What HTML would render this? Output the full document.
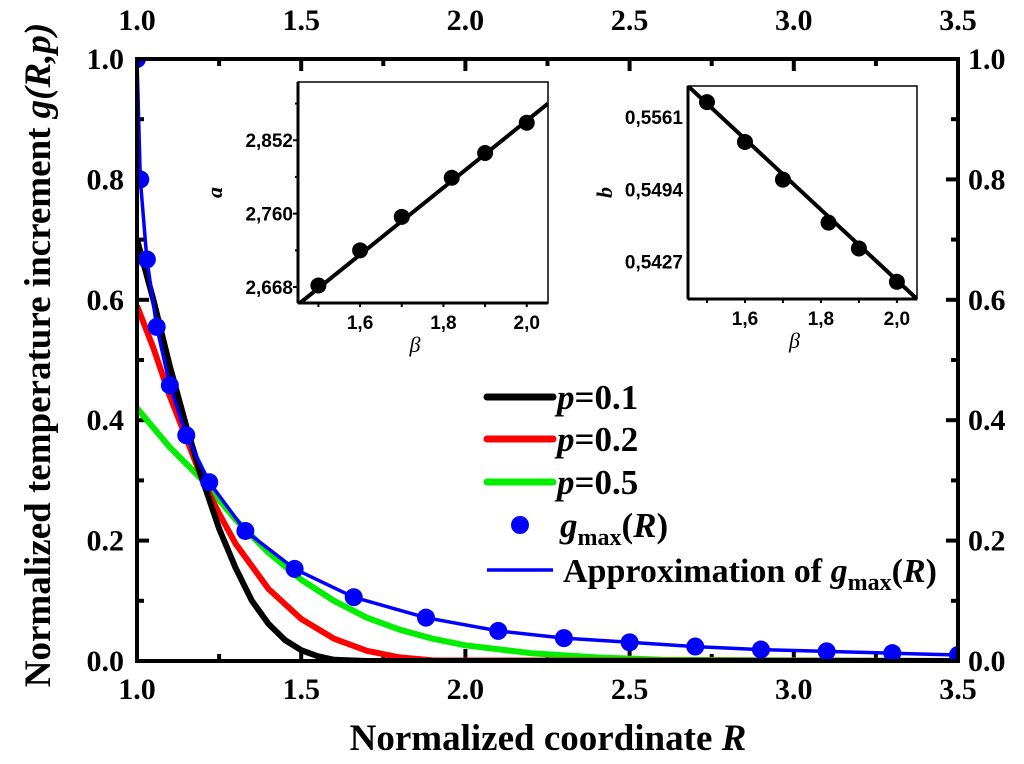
<!DOCTYPE html>
<html><head><meta charset="utf-8"><style>
html,body{margin:0;padding:0;background:#fff;}
svg{display:block;font-family:"Liberation Serif",serif;font-weight:bold;}
.ins{font-family:"Liberation Sans",sans-serif;font-weight:bold;}
</style></head><body>
<svg id="c" width="1024" height="764" viewBox="0 0 1024 764" xmlns="http://www.w3.org/2000/svg"></svg>
<script>
const gmaxR=[1.0,1.01,1.03,1.06,1.10,1.15,1.22,1.33,1.48,1.66,1.88,2.1,2.3,2.5,2.7,2.9,3.1,3.3,3.5];
const gmaxV=[1.0,0.80,0.667,0.555,0.458,0.375,0.297,0.216,0.153,0.106,0.072,0.050,0.038,0.031,0.024,0.019,0.016,0.013,0.010];
const p1R=[1.0,1.05,1.1,1.15,1.2,1.25,1.3,1.35,1.4,1.45,1.5,1.55,1.6,1.7,3.5];
const p1V=[0.70,0.60,0.49,0.39,0.30,0.22,0.155,0.10,0.062,0.035,0.018,0.008,0.002,0,0];
const p2R=[1.0,1.05,1.1,1.15,1.2,1.25,1.3,1.4,1.5,1.6,1.7,1.8,1.9,3.5];
const p2V=[0.59,0.52,0.44,0.37,0.30,0.245,0.195,0.12,0.07,0.037,0.017,0.006,0.001,0];
const p5R=[1.0,1.1,1.2,1.3,1.4,1.5,1.6,1.7,1.8,1.9,2.0,2.2,2.4,2.6,3.5];
const p5V=[0.42,0.355,0.30,0.235,0.18,0.135,0.10,0.072,0.052,0.037,0.026,0.013,0.006,0.002,0];
const xTicks=["1.0","1.5","2.0","2.5","3.0","3.5"];
const yTicks=["0.0","0.2","0.4","0.6","0.8","1.0"];
const aBeta=[1.5,1.6,1.7,1.82,1.9,2.0];
const aVal=[2.670,2.714,2.756,2.805,2.836,2.874];
const aTicks=["2,668","2,760","2,852"];
const bBeta=[1.5,1.6,1.7,1.82,1.9,2.0];
const bVal=[0.5575,0.5538,0.5503,0.5463,0.5439,0.5408];
const bTicks=["0,5561","0,5494","0,5427"];
const betaTicks=["1,6","1,8","2,0"];

const S=document.getElementById('c');const NS='http://www.w3.org/2000/svg';
function el(t,a,p){const e=document.createElementNS(NS,t);for(const k in a)e.setAttribute(k,a[k]);(p||S).appendChild(e);return e;}
const X0=137,X1=958,Y0=661,Y1=59;
const sx=v=>X0+(v-1)/2.5*(X1-X0), sy=v=>Y0-v*(Y0-Y1);
for(let v=1;v<=3.5001;v+=0.25){const x=sx(v),maj=Math.abs(v*2-Math.round(v*2))<1e-6;const L=maj?12:7;
 let t=el('line',{x1:x,y1:Y0,x2:x,y2:Y0-L,stroke:'#000','stroke-width':4});
 t=el('line',{x1:x,y1:Y1,x2:x,y2:Y1+L,stroke:'#000','stroke-width':4});}
for(let i=0;i<=10;i++){const y=sy(i/10),L=i%2?7:12;
 let t=el('line',{x1:X0,y1:y,x2:X0+L,y2:y,stroke:'#000','stroke-width':4});
 t=el('line',{x1:X1,y1:y,x2:X1-L,y2:y,stroke:'#000','stroke-width':4});}
xTicks.forEach(s=>{const x=sx(parseFloat(s));
 let t=el('text',{x:x,y:699,'font-size':30,'text-anchor':'middle'});t.textContent=s;
 t=el('text',{x:x,y:30,'font-size':30,'text-anchor':'middle'});t.textContent=s;});
yTicks.forEach(s=>{const y=sy(parseFloat(s))+10;
 let t=el('text',{x:124,y:y,'font-size':30,'text-anchor':'end'});t.textContent=s;
 t=el('text',{x:968,y:y,'font-size':30,'text-anchor':'start'});t.textContent=s;});
const cp=el('clipPath',{id:'cl'});el('rect',{x:X0,y:Y1,width:X1-X0,height:Y0-Y1},cp);
function line(R,V,col,w,name){const d=R.map((r,i)=>(i?'L':'M')+sx(r).toFixed(1)+','+sy(V[i]).toFixed(1)).join('');
 const p=el('path',{d:d,fill:'none',stroke:col,'stroke-width':w,'stroke-linejoin':'round','clip-path':'url(#cl)'});}
line(p5R,p5V,'#00ee00',6,'series-p05');
line(p2R,p2V,'#ff0000',6,'series-p02');
line(p1R,p1V,'#000',6,'series-p01');
line(gmaxR,gmaxV,'#0000ff',3.5,'series-approximation');
gmaxR.forEach((r,i)=>{const c=el('circle',{cx:sx(r),cy:sy(gmaxV[i]),r:9,fill:'#0000ff','clip-path':'url(#cl)'});});
let f=el('rect',{x:X0,y:Y1,width:X1-X0,height:Y0-Y1,fill:'none',stroke:'#000','stroke-width':4});
let t=el('text',{x:548,y:750,'font-size':37,'text-anchor':'middle'});t.innerHTML='Normalized coordinate <tspan font-style="italic">R</tspan>';
t=el('text',{x:0,y:0,'font-size':37,'text-anchor':'middle',transform:'translate(50,355) rotate(-90)'});t.innerHTML='Normalized temperature increment  <tspan font-style="italic">g(R,p)</tspan>';
const lg=[['#000','p=0.1',397],['#ff0000','p=0.2',439],['#00ee00','p=0.5',482]];
lg.forEach(([c,l,y])=>{let a=el('line',{x1:487,y1:y,x2:553,y2:y,stroke:c,'stroke-width':7,'stroke-linecap':'round'});
 let b=el('text',{x:557,y:y+12,'font-size':35});b.innerHTML='<tspan font-style="italic">p</tspan>'+l.slice(1);});
let c=el('circle',{cx:520,cy:525,r:9,fill:'#0000ff'});
t=el('text',{x:560,y:537,'font-size':35});t.innerHTML='<tspan font-style="italic">g</tspan><tspan font-size="24" dy="8">max</tspan><tspan dy="-8">(</tspan><tspan font-style="italic">R</tspan>)';
let l=el('line',{x1:487,y1:570,x2:553,y2:570,stroke:'#0000ff','stroke-width':3.5});
t=el('text',{x:563,y:582,'font-size':34});t.innerHTML='Approximation of <tspan font-style="italic">g</tspan><tspan font-size="24" dy="8">max</tspan><tspan dy="-8">(</tspan><tspan font-style="italic">R</tspan>)';
function inset(o){const {L,R,T,B,xmin,xmax,ymin,ymax,bx,bv,ticks,line0,line1,lab,name}=o;
 const g=el('g',{class:'ins'});
 const ix=v=>L+(v-xmin)/(xmax-xmin)*(R-L), iy=v=>B-(v-ymin)/(ymax-ymin)*(B-T);
 el('rect',{x:L,y:T,width:R-L,height:B-T,fill:'#fff',stroke:'#000','stroke-width':1.5},g);
 el('line',{x1:L,y1:T,x2:L,y2:B,stroke:'#000','stroke-width':3},g);el('line',{x1:L,y1:B,x2:R,y2:B,stroke:'#000','stroke-width':3},g);
 for(let v=1.5;v<=2.0001;v+=0.1){const x=ix(v);el('line',{x1:x,y1:B,x2:x,y2:B+4,stroke:'#000','stroke-width':2},g);}
 betaTicks.forEach(s=>{const x=ix(parseFloat(s.replace(',','.')));let k=el('text',{x:x,y:B+26,'font-size':19,'text-anchor':'middle'},g);k.textContent=s;});
 const tv=ticks.map(s=>parseFloat(s.replace(',','.')));const st=(tv[1]-tv[0])/2;
 for(let v=tv[0]-st*2;v<=ymax;v+=st){if(v<ymin)continue;const y=iy(v);el('line',{x1:L,y1:y,x2:L-(Math.abs((v-tv[0])/st)%2<0.5?5:3),y2:y,stroke:'#000','stroke-width':2},g);}
 ticks.forEach((s,i)=>{let k=el('text',{x:L-5,y:iy(tv[i])+7,'font-size':19,'text-anchor':'end'},g);k.textContent=s;});
 let k=el('text',{x:(L+R)/2-8,y:B+49,'font-size':22,'font-style':'italic','font-family':'Liberation Serif','text-anchor':'middle','font-weight':'normal'},g);k.textContent='β';
 k=el('text',{x:0,y:0,'font-size':22,'font-style':'italic','font-family':'Liberation Serif','text-anchor':'middle',transform:`translate(${L-76},${(T+B)/2}) rotate(-90)`},g);k.textContent=lab;
 const cl='ic'+name;const cpp=el('clipPath',{id:cl},g);el('rect',{x:L,y:T,width:R-L,height:B-T},cpp);
 el('line',{x1:ix(xmin),y1:iy(line0),x2:ix(xmax),y2:iy(line1),stroke:'#000','stroke-width':4,'clip-path':`url(#${cl})`},g);
 bx.forEach((b,i)=>{const d=el('circle',{cx:ix(b),cy:iy(bv[i]),r:8,fill:'#000'},g);});}
inset({L:298,R:548,T:82,B:303,xmin:1.451,xmax:2.051,ymin:2.648,ymax:2.925,bx:aBeta,bv:aVal,ticks:aTicks,line0:2.646,line1:2.898,lab:'a',name:'inset-a'});
inset({L:688,R:917,T:86,B:299,xmin:1.45,xmax:2.053,ymin:0.5392,ymax:0.5590,bx:bBeta,bv:bVal,ticks:bTicks,line0:0.5590,line1:0.5392,lab:'b',name:'inset-b'});
</script>
</body></html>
